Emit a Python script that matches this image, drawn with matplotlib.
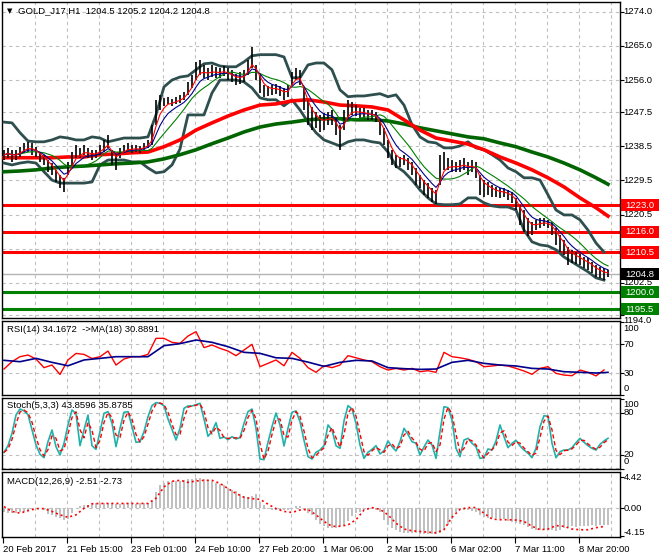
import numpy as np
import pandas as pd
import matplotlib
matplotlib.use('Agg')
import matplotlib.pyplot as plt
from matplotlib.patches import Rectangle

plt.rcParams['font.family'] = ['Liberation Sans', 'DejaVu Sans']

# H1 bars, sampled every 2nd bar (high / low)
hi = [1237.6, 1238.1, 1237.6, 1237.6, 1238.4, 1239.4, 1239.7, 1239.4, 1238.4, 1237.0,
      1236.3, 1234.9, 1234.1, 1232.3, 1231.0, 1230.2, 1234.4, 1237.0, 1238.9, 1238.1,
      1238.9, 1238.1, 1237.6, 1237.6, 1238.9, 1240.2, 1241.5, 1237.6, 1236.3, 1238.1,
      1238.9, 1239.4, 1238.9, 1238.9, 1238.6, 1239.4, 1240.2, 1244.2, 1250.8, 1252.1,
      1251.3, 1251.6, 1251.0, 1251.6, 1252.1, 1252.9, 1255.5, 1257.4, 1260.8, 1261.3,
      1260.0, 1259.2, 1260.0, 1259.5, 1259.2, 1259.7, 1259.2, 1258.7, 1257.6, 1258.2,
      1258.7, 1261.3, 1264.8, 1260.0, 1257.4, 1254.7, 1254.5, 1254.7, 1255.0, 1254.5,
      1253.9, 1254.7, 1258.2, 1259.2, 1258.7, 1253.9, 1250.8, 1248.9, 1247.6, 1246.8,
      1247.3, 1247.6, 1248.1, 1246.0, 1244.2, 1248.1, 1250.8, 1250.2, 1249.4, 1248.7,
      1248.7, 1248.1, 1248.1, 1247.6, 1245.5, 1243.4, 1240.2, 1237.6, 1236.3, 1235.7,
      1236.3, 1235.5, 1234.4, 1232.8, 1231.0, 1229.6, 1228.8, 1227.5, 1227.0, 1236.3,
      1237.0, 1235.5, 1234.9, 1234.4, 1234.9, 1235.5, 1234.4, 1234.9, 1234.4, 1231.0,
      1229.6, 1229.1, 1228.3, 1227.8, 1227.5, 1227.5, 1227.0, 1226.5, 1224.9, 1223.1,
      1221.7, 1219.6, 1218.6, 1219.1, 1219.6, 1219.6, 1219.1, 1218.6, 1217.0, 1215.1,
      1213.8, 1212.0, 1211.2, 1210.6, 1210.1, 1209.3, 1209.1, 1208.0, 1207.2, 1206.7,
      1206.4, 1205.9]
lo = [1234.9, 1235.5, 1234.4, 1234.9, 1235.7, 1236.8, 1237.0, 1236.3, 1235.7, 1234.4,
      1233.6, 1231.8, 1231.0, 1229.1, 1227.5, 1226.5, 1231.0, 1233.6, 1235.5, 1235.5,
      1236.3, 1235.5, 1234.9, 1235.5, 1236.3, 1237.0, 1238.1, 1233.6, 1232.3, 1235.5,
      1236.8, 1237.0, 1236.8, 1237.0, 1236.8, 1237.6, 1238.1, 1238.9, 1244.2, 1248.1,
      1249.2, 1249.7, 1249.2, 1249.7, 1250.0, 1250.8, 1252.1, 1253.9, 1256.0, 1257.4,
      1256.6, 1256.0, 1256.8, 1256.6, 1256.6, 1257.1, 1256.0, 1255.5, 1254.7, 1255.0,
      1255.5, 1257.4, 1259.2, 1256.0, 1252.6, 1251.6, 1251.8, 1252.1, 1252.4, 1251.8,
      1250.8, 1251.6, 1254.7, 1256.0, 1254.7, 1248.1, 1244.2, 1242.8, 1243.4, 1242.3,
      1242.8, 1244.2, 1244.2, 1241.5, 1237.6, 1242.8, 1246.0, 1246.8, 1246.5, 1246.0,
      1246.0, 1245.5, 1245.5, 1244.9, 1241.5, 1238.9, 1235.5, 1233.6, 1232.8, 1233.1,
      1233.6, 1232.3, 1231.0, 1228.3, 1227.5, 1225.7, 1224.9, 1223.8, 1223.3, 1228.3,
      1232.3, 1232.3, 1231.8, 1231.8, 1231.8, 1232.3, 1231.0, 1231.8, 1230.2, 1225.7,
      1225.2, 1225.7, 1225.2, 1225.2, 1224.9, 1225.2, 1224.4, 1223.6, 1221.7, 1217.8,
      1215.9, 1214.9, 1215.1, 1216.4, 1217.0, 1217.5, 1217.0, 1215.1, 1212.5, 1210.6,
      1209.8, 1207.2, 1207.7, 1207.5, 1207.2, 1206.4, 1205.9, 1205.1, 1204.0, 1203.8,
      1203.2, 1204.0]

# bollinger bands (every 4th bar)
bb_up = [1244.9, 1244.7, 1242.1, 1239.9, 1239.7, 1239.7, 1240.2, 1241.0, 1240.7, 1240.2,
         1240.2, 1241.0, 1240.7, 1239.7, 1240.2, 1240.7, 1240.7, 1240.7, 1241.0, 1246.8,
         1254.2, 1256.0, 1256.8, 1257.1, 1258.7, 1260.3, 1260.5, 1259.7, 1259.5, 1259.5,
         1260.8, 1262.4, 1262.7, 1262.7, 1262.7, 1262.1, 1256.6, 1256.6, 1260.0, 1260.5,
         1260.5, 1258.7, 1253.4, 1251.6, 1251.8, 1251.8, 1252.1, 1252.4, 1251.6, 1252.1,
         1249.4, 1244.2, 1241.0, 1239.7, 1239.4, 1238.1, 1238.1, 1238.6, 1239.7, 1238.1,
         1237.6, 1236.3, 1234.9, 1232.8, 1231.8, 1230.2, 1230.2, 1229.6, 1225.7, 1221.7,
         1220.4, 1220.4, 1219.1, 1216.4, 1213.0, 1210.6]
bb_dn = [1234.1, 1233.6, 1234.1, 1234.4, 1234.1, 1231.8, 1229.6, 1228.8, 1228.8, 1228.8,
         1228.8, 1229.1, 1233.6, 1234.9, 1234.9, 1234.9, 1234.4, 1234.4, 1232.8, 1231.5,
         1231.8, 1233.6, 1237.8, 1246.8, 1246.8, 1246.8, 1252.6, 1256.0, 1256.0, 1256.0,
         1255.5, 1253.9, 1251.3, 1250.8, 1250.8, 1249.2, 1250.8, 1248.1, 1244.9, 1242.1,
         1240.2, 1239.4, 1238.6, 1239.7, 1240.2, 1240.2, 1239.7, 1239.4, 1237.0, 1233.3,
         1231.8, 1229.6, 1227.0, 1224.9, 1223.3, 1223.1, 1223.1, 1223.3, 1224.9, 1224.9,
         1223.6, 1222.8, 1222.5, 1222.5, 1221.7, 1216.4, 1213.3, 1212.5, 1212.2, 1211.2,
         1209.3, 1208.0, 1206.7, 1205.4, 1203.8, 1203.2]

# slow moving averages (every 8th bar, last point = last bar)
ma_red = [1235.5, 1235.5, 1235.5, 1235.5, 1235.7, 1235.7, 1236.3, 1236.5, 1236.8, 1237.0,
          1238.4, 1240.2, 1242.8, 1244.7, 1246.5, 1248.1, 1249.4, 1249.7, 1250.5, 1250.8,
          1250.2, 1249.4, 1249.2, 1248.9, 1248.1, 1245.5, 1242.8, 1240.7, 1239.9, 1239.1,
          1237.6, 1235.7, 1234.1, 1232.3, 1230.2, 1227.8, 1224.9, 1222.3, 1220.1]
ma_green = [1231.8, 1232.0, 1232.3, 1232.8, 1233.1, 1233.3, 1233.6, 1233.9, 1234.1, 1234.4,
            1235.2, 1236.3, 1237.6, 1239.2, 1240.7, 1242.3, 1243.6, 1244.4, 1244.9, 1245.5,
            1245.8, 1245.8, 1245.5, 1245.5, 1245.2, 1244.4, 1243.4, 1242.6, 1241.8, 1241.0,
            1240.5, 1239.4, 1238.4, 1237.0, 1235.7, 1234.1, 1232.3, 1230.2, 1228.5]

price_ticks = [1274.0, 1265.0, 1256.0, 1247.5, 1238.5, 1229.5, 1220.5, 1211.5, 1202.5, 1194.0]
levels_red = [1223.0, 1216.0, 1210.5]
levels_green = [1200.0, 1195.5]
last_price = 1204.8

rsi = [35.5, 45.6, 52.5, 54.8, 49.3, 37.4, 41.0, 28.0, 48.0, 57.0,
       55.7, 50.0, 52.5, 60.3, 41.0, 49.3, 52.5, 52.5, 55.7, 77.8,
       77.8, 72.3, 70.9, 81.0, 87.0, 65.0, 68.6, 64.0, 60.3, 53.9,
       61.7, 69.5, 38.7, 43.3, 48.0, 40.0, 58.5, 50.2, 37.4, 31.0,
       40.0, 37.4, 41.0, 53.9, 51.0, 48.0, 45.6, 38.7, 34.1, 36.4,
       34.1, 36.4, 31.8, 33.2, 31.0, 58.5, 52.5, 51.0, 48.9, 45.6,
       38.7, 39.7, 41.0, 39.7, 36.4, 32.8, 28.2, 36.4, 38.7, 29.5,
       27.2, 26.3, 34.1, 31.0, 26.0, 34.2]
rsi_ma = [47.5, 45.6, 50.2, 44.7, 40.0, 48.0, 50.2, 52.5, 52.5, 52.5,
          67.7, 70.5, 75.5, 72.3, 66.3, 58.5, 57.1, 51.0, 50.2, 45.0,
          39.2, 44.7, 47.5, 46.6, 37.4, 36.0, 35.0, 35.5, 44.7, 47.5,
          43.3, 41.0, 39.7, 36.4, 35.5, 31.8, 31.0, 30.0, 30.9]

stoch = [23.8, 33.3, 51.0, 77.1, 85.7, 82.9, 77.6, 56.2, 34.3, 21.0,
         16.2, 39.0, 55.7, 31.9, 20.0, 36.7, 62.9, 84.3, 79.0, 33.3,
         55.7, 77.1, 33.3, 28.1, 53.3, 79.5, 81.9, 65.2, 31.9, 58.1,
         81.0, 81.9, 60.5, 38.1, 39.0, 53.3, 74.8, 90.5, 94.8, 93.8,
         90.5, 71.4, 56.7, 41.4, 58.1, 86.7, 90.0, 90.0, 91.9, 93.8,
         71.4, 46.7, 53.3, 66.2, 43.8, 45.7, 41.9, 46.2, 42.9, 44.8,
         65.2, 81.9, 85.7, 58.1, 14.3, 13.3, 38.1, 60.5, 80.0, 62.9,
         32.9, 58.1, 81.0, 82.9, 67.6, 41.0, 17.6, 14.3, 23.8, 27.1,
         33.3, 62.9, 55.7, 33.3, 29.5, 68.6, 90.5, 85.7, 65.2, 34.3,
         15.2, 23.8, 28.1, 33.3, 21.4, 26.2, 40.0, 31.9, 25.7, 39.0,
         58.1, 49.5, 39.0, 36.7, 20.0, 31.4, 41.4, 34.3, 15.2, 53.3,
         89.0, 87.6, 70.0, 29.5, 17.6, 41.4, 43.8, 36.7, 31.9, 15.2,
         16.2, 28.6, 27.1, 40.0, 62.9, 46.2, 30.5, 36.7, 41.0, 32.9,
         27.1, 22.4, 16.2, 29.5, 60.5, 76.2, 75.2, 36.7, 16.2, 24.8,
         27.1, 27.1, 30.5, 37.6, 43.8, 38.1, 33.3, 29.5, 27.1, 35.2,
         40.0, 43.9]

macd_hist = [-0.7, -0.75, -0.8, -0.75, -0.7, -0.6, -0.5, -0.2, -0.15, -0.1,
             -0.3, -0.9, -1.1, -1.4, -1.55, -1.75, -1.7, -0.8, -0.1, 0.3,
             0.4, 0.45, 0.55, 0.6, 0.6, 0.65, 0.7, 0.6, 0.5, 0.55,
             0.6, 0.6, 0.6, 0.55, 0.6, 0.6, 0.65, 0.9, 2.3, 3.2,
             3.6, 3.8, 3.85, 3.9, 3.85, 3.95, 4.1, 4.2, 4.25, 4.3,
             4.2, 4.0, 3.9, 3.6, 3.4, 3.2, 2.8, 2.6, 2.4, 1.9,
             1.7, 1.6, 1.65, 1.9, 0.8, 0.4, -0.2, -0.35, -0.4, -0.4,
             -0.35, -0.3, -0.2, 0.2, 0.3, -0.4, -0.8, -1.0, -1.75, -2.3,
             -2.7, -2.95, -3.0, -2.9, -2.7, -2.5, -1.9, -1.2, -0.8, -0.6,
             -0.3, -0.2, -0.25, -0.3, -0.6, -1.8, -2.5, -2.9, -3.3, -3.5,
             -3.6, -3.6, -3.7, -3.7, -3.8, -3.75, -3.8, -3.85, -3.8, -3.6,
             -3.2, -2.5, -1.6, -0.6, -0.35, -0.3, -0.35, -0.5, -0.7, -1.0,
             -1.3, -1.5, -1.5, -1.55, -1.6, -1.7, -1.9, -2.1, -2.2, -2.3,
             -2.5, -2.8, -3.1, -3.3, -3.3, -3.2, -3.2, -3.3, -3.35, -3.2,
             -3.0, -2.8, -2.7, -2.75, -2.7, -2.6, -2.6, -2.55, -2.6, -2.55,
             -2.5, -2.51]
macd_sig = [0.15, -0.55, -0.8, -0.45, -0.15, -0.15, -0.55, -1.05, -1.4, -1.05,
            -0.1, 0.55, 0.6, 0.6, 0.6, 0.6, 0.6, 0.6, 0.6, 1.35,
            3.0, 3.8, 3.95, 3.65, 3.85, 3.95, 3.95, 3.5, 2.75, 2.05,
            1.5, 1.3, 1.2, 0.5, -0.15, -0.55, -0.7, -0.35, -0.25, -1.05,
            -2.0, -2.7, -2.7, -2.5, -1.75, -0.35, 0.0, -0.25, -1.05, -2.25,
            -3.1, -3.35, -3.45, -3.55, -3.65, -3.2, -1.4, -0.25, 0.0, 0.0,
            -0.8, -1.65, -1.75, -1.75, -1.8, -2.0, -2.7, -3.2, -3.1, -2.6,
            -2.7, -3.1, -3.2, -3.2, -2.9, -2.73]

date_labels = ['20 Feb 2017', '21 Feb 15:00', '23 Feb 01:00', '24 Feb 10:00', '27 Feb 20:00',
               '1 Mar 06:00', '2 Mar 15:00', '6 Mar 02:00', '7 Mar 11:00', '8 Mar 20:00']

W, H = 660, 560
fs = 6.8
grid_c = '#c0c0c0'
dash = (0, (3, 3))

x = np.arange(len(hi))
x2 = np.arange(len(bb_up)) * 2
x8 = np.append(np.arange(len(ma_red) - 1) * 4, len(hi) - 1)
mid = pd.Series((np.array(hi) + np.array(lo)) / 2)

fig = plt.figure(figsize=(W / 100, H / 100), dpi=100)


def panel(y0, y1):
    a = fig.add_axes([2 / W, 1 - y1 / H, 618 / W, (y1 - y0) / H])
    a.set_xlim(-0.5, 154)
    a.set_xticks([])
    for s in a.spines.values():
        s.set_color('black')
        s.set_linewidth(1)
    for g in np.arange(7.75, 154, 8):
        a.axvline(g, color=grid_c, ls=dash, lw=0.8, zorder=0)
    a.tick_params(axis='y', left=False, labelleft=False, right=True, length=3, width=0.8)
    return a


def right_labels(a, items, va='center'):
    # items: (text, position)
    tr = a.get_yaxis_transform()
    for txt, pos in items:
        a.text(1.006, pos, txt, transform=tr, fontsize=fs, va=va, ha='left', clip_on=False)


# ---- main price panel
ax = panel(2, 318)
ax.set_ylim(1193.2, 1276.6)
ax.set_yticks(price_ticks)
ax.set_yticklabels([])
for p in price_ticks:
    ax.axhline(p, color=grid_c, ls=dash, lw=0.8, zorder=0)
ax.axhline(last_price, color='#b4b4b4', lw=1, zorder=1)
for lv in levels_red:
    ax.axhline(lv, color='#ff0000', lw=2.2, zorder=2)
for lv in levels_green:
    ax.axhline(lv, color='#008000', lw=2.2, zorder=2)

ax.plot(x2, bb_up, color='#2f4f4f', lw=2, zorder=3)
ax.plot(x2, bb_dn, color='#2f4f4f', lw=2, zorder=3)
ax.plot(x8, ma_green, color='#006400', lw=2.6, zorder=3)
ax.plot(x8, ma_red, color='#ff0000', lw=2.6, zorder=3)
ax.vlines(x, lo, hi, color='black', lw=1.2, zorder=4)
ax.plot(x, mid.rolling(10, min_periods=1).mean(), color='#008000', lw=0.8, zorder=5)
ax.plot(x, mid.ewm(span=6).mean(), color='#00008b', lw=0.8, zorder=5)
ax.plot(x, mid.ewm(span=3).mean(), color='#ff0000', lw=0.8, zorder=5)

# the 1211.5 label sits under the 1210.5 box, 1194.0 peeks out below the 1195.5 box
right_labels(ax, [('%.1f' % p, p) for p in price_ticks if p not in (1211.5, 1194.0)])
right_labels(ax, [('1194.0', 1193.85)], va='top')
tr = ax.get_yaxis_transform()
boxes = [(v, '#ff0000') for v in levels_red] + [(last_price, 'black')] + \
        [(v, '#008000') for v in levels_green]
for v, c in boxes:
    ax.add_patch(Rectangle((1.0015, v - 1.6), 38 / 618, 3.2, transform=tr,
                           facecolor=c, edgecolor='none', clip_on=False, zorder=10))
    ax.text(1.008, v, '%.1f' % v, transform=tr, fontsize=fs, color='white',
            va='center', ha='left', clip_on=False, zorder=11)

fig.text(7 / W, 1 - 11 / H, '\u25bc', fontsize=5, va='center', family='DejaVu Sans')
fig.text(18 / W, 1 - 11 / H, 'GOLD_J17,H1  1204.5 1205.2 1204.2 1204.8', fontsize=fs, va='center')

# ---- RSI
ax_rsi = panel(321, 395)
ax_rsi.set_ylim(-0.3, 101.7)
ax_rsi.set_yticks([100, 70, 30, 0])
ax_rsi.set_yticklabels([])
for lv in [70, 30]:
    ax_rsi.axhline(lv, color=grid_c, ls=dash, lw=0.8, zorder=0)
ax_rsi.plot(x2, rsi, color='#ff0000', lw=1)
ax_rsi.plot(x8, rsi_ma, color='#00008b', lw=1.2)
right_labels(ax_rsi, [('100', 92), ('70', 69), ('30', 29), ('0', 9)])
fig.text(7 / W, 1 - 330 / H, 'RSI(14) 34.1672  ->MA(18) 30.8891', fontsize=fs, va='center')

# ---- Stochastic
ax_st = panel(398, 469)
ax_st.set_ylim(0, 101.4)
ax_st.set_yticks([100, 80, 20, 0])
ax_st.set_yticklabels([])
for lv in [80, 20, 0.8]:
    ax_st.axhline(lv, color=grid_c, ls=dash, lw=0.8, zorder=0)
st_sig = pd.Series(stoch).rolling(2, min_periods=1).mean()
ax_st.plot(x, stoch, color='#20b2aa', lw=1.2)
ax_st.plot(x, st_sig, color='#ff0000', lw=1, ls=(0, (3, 2)))
right_labels(ax_st, [('100', 92), ('80', 80), ('20', 21), ('0', 10)])
fig.text(7 / W, 1 - 406 / H, 'Stoch(5,3,3) 43.8596 35.8785', fontsize=fs, va='center')

# ---- MACD
ax_md = panel(472, 537)
ax_md.set_ylim(-4.25, 5.15)
ax_md.set_yticks([4.42, 0.0, -4.15])
ax_md.set_yticklabels([])
ax_md.axhline(0, color=grid_c, ls=dash, lw=0.8, zorder=0)
ax_md.bar(x, macd_hist, width=0.45, color='#c0c0c0', zorder=1)
ax_md.plot(x2, macd_sig, color='#ff0000', lw=1.2, ls=(0, (1.2, 1.8)), zorder=2)
right_labels(ax_md, [('4.42', 4.3), ('0.00', -0.1), ('-4.15', -3.6)])
fig.text(7 / W, 1 - 481 / H, 'MACD(12,26,9) -2.51 -2.73', fontsize=fs, va='center')

ax_md.set_xticks(np.arange(len(date_labels)) * 16 - 0.25)
ax_md.set_xticklabels(date_labels, fontsize=fs, ha='left')
ax_md.tick_params(axis='x', length=4, width=0.8, pad=2)

fig.savefig('out.png', dpi=100)
